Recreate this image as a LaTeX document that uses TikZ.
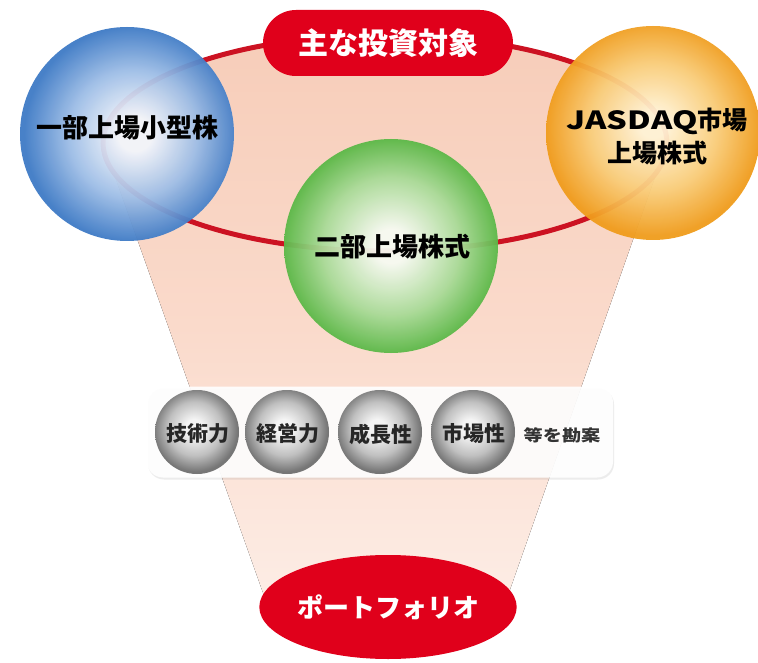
\documentclass[tikz,border=0pt]{standalone}
\usepackage{fontspec}
\newfontfamily\jp{Noto Sans CJK JP}
\usetikzlibrary{shapes.geometric,shadows}
\definecolor{redA}{HTML}{E0001B}
\definecolor{ringred}{HTML}{CC1222}
\definecolor{peachT}{HTML}{F7CDB9}
\definecolor{peachM}{HTML}{FADACB}
\definecolor{peachB}{HTML}{FDEEE7}
\definecolor{blueC}{HTML}{F2F5FB}
\definecolor{blueM}{HTML}{9DBDE6}
\definecolor{blueE}{HTML}{3F7BC6}
\definecolor{orC}{HTML}{FFF3D6}
\definecolor{orM}{HTML}{F9CC78}
\definecolor{orE}{HTML}{F09C1C}
\definecolor{grC}{HTML}{F6FAF2}
\definecolor{grM}{HTML}{A9DB98}
\definecolor{grE}{HTML}{5BB847}
\definecolor{gyC}{HTML}{F4F4F4}
\definecolor{gyM}{HTML}{C0C0C0}
\definecolor{gyE}{HTML}{767676}
\pgfdeclareradialshading{blueball}{\pgfpoint{2bp}{0bp}}{color(0bp)=(blueC); color(4bp)=(blueC); color(15bp)=(blueM); color(25bp)=(blueE); color(50bp)=(blueE)}
\pgfdeclareradialshading{orball}{\pgfpoint{0bp}{2bp}}{color(0bp)=(orC); color(3bp)=(orC); color(15bp)=(orM); color(25bp)=(orE); color(50bp)=(orE)}
\pgfdeclareradialshading{grball}{\pgfpoint{0bp}{0bp}}{color(0bp)=(grC); color(4bp)=(grC); color(16bp)=(grM); color(25bp)=(grE); color(50bp)=(grE)}
\pgfdeclareradialshading{gyball}{\pgfpoint{-2bp}{3bp}}{color(0bp)=(gyC); color(5bp)=(gyC); color(16bp)=(gyM); color(25bp)=(gyE); color(50bp)=(gyE)}
\tikzset{
  bigball/.style={circle, inner sep=0pt, outer sep=0pt, minimum size=214pt, fill opacity=0.95},
  smallball/.style={circle, inner sep=0pt, outer sep=0pt, minimum size=84pt, shading=gyball},
  balltext/.style={font=\jp\bfseries\fontsize{26pt}{31pt}\selectfont, text=black, align=center, inner sep=0pt},
  smalltext/.style={font=\jp\bfseries\fontsize{21pt}{24pt}\selectfont, text=black!85, inner sep=0pt},
  redlabel/.style={fill=redA, text=white, inner sep=0pt, font=\jp\bfseries\fontsize{30pt}{34pt}\selectfont},
}
\begin{document}
\begin{tikzpicture}[x=1pt, y=-1pt]
\useasboundingbox (0,0) rectangle (758,663);
\fill[white] (0,0) rectangle (758,663);
% funnel (upper half of ring plus tapering body)
\fill[top color=peachT, bottom color=peachB, middle color=peachM]
  (103,143) arc[start angle=180, end angle=360, x radius=282, y radius=108]
  -- (667,143) -- (500,618) -- (272,618) -- (103,143) -- cycle;
% ring
\draw[ringred, line width=5pt] (385,143) ellipse [x radius=282, y radius=108];
% big balls
\node[bigball, shading=blueball] (blue) at (127,134) {};
\node[bigball, shading=orball] (orange) at (653,133) {};
\node[bigball, shading=grball] (green) at (391,246) {};
\node[balltext] (bluet) at (127,128) {一部上場小型株};
\node[balltext, font=\jp\bfseries\fontsize{25pt}{33pt}\selectfont] (oranget) at (657,137) {\scalebox{1.3}[1]{JASDAQ}市場\\上場株式};
\node[balltext] (greent) at (392,247) {二部上場株式};
% top label
\node[redlabel, rounded corners=33pt, minimum width=250pt, minimum height=66pt] (top) at (388,43) {主な投資対象};
% criteria box
\node[fill=white, fill opacity=0.9, rounded corners=16pt, minimum width=466pt, minimum height=91pt, drop shadow={opacity=0.15, shadow xshift=1pt, shadow yshift=-2pt}] (box) at (380,432) {};
\node[smallball] (b1) at (197,432) {};
\node[smallball] (b2) at (287,432) {};
\node[smallball] (b3) at (380,432) {};
\node[smallball] (b4) at (473,432) {};
\node[smalltext] (t1) at (198,434) {技術力};
\node[smalltext] (t2) at (288,434) {経営力};
\node[smalltext] (t3) at (381,434) {成長性};
\node[smalltext] (t4) at (474,434) {市場性};
\node[inner sep=0pt, text=black!80, font=\jp\bfseries\fontsize{16pt}{18pt}\selectfont] (t5) at (562,435) {\scalebox{1.2}[1]{等を勘案}};
% bottom label
\node[redlabel, ellipse, minimum width=240pt, minimum height=104pt, font=\jp\bfseries\fontsize{26pt}{30pt}\selectfont] (port) at (388,607) {ポートフォリオ};
\end{tikzpicture}
\end{document}
